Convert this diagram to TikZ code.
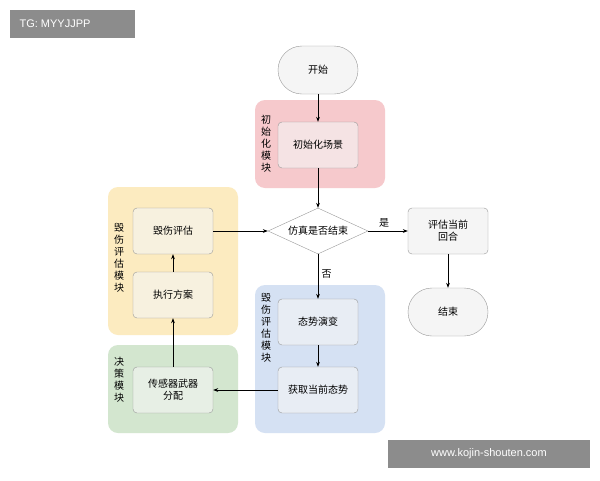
\documentclass[tikz,border=0pt]{standalone}
\usepackage{fontspec}
\setmainfont{Liberation Sans}
\newfontfamily\cjk{Noto Sans CJK SC}
\usetikzlibrary{shapes.geometric,arrows.meta}
\definecolor{pinkbg}{HTML}{F6C9CC}
\definecolor{yelbg}{HTML}{FCEBC0}
\definecolor{grnbg}{HTML}{D3E6CF}
\definecolor{bluebg}{HTML}{D5E1F3}
\definecolor{boxgray}{HTML}{F5F5F5}
\definecolor{edgegray}{HTML}{999999}
\begin{document}
\begin{tikzpicture}[x=1pt,y=-1pt,
  font=\cjk\fontsize{10}{12}\selectfont,
  module/.style={draw=none,rounded corners=10pt},
  inner/.style={draw=edgegray,fill=boxgray,fill opacity=0.6,text opacity=1,rounded corners=4pt,minimum width=80pt,minimum height=46pt,align=center},
  term/.style={draw=edgegray,fill=boxgray,rounded corners=24pt,minimum width=80pt,minimum height=48pt},
  vlabel/.style={align=center,font=\cjk\fontsize{10}{12}\selectfont},
  arr/.style={-{Stealth[length=5pt]},black,line width=0.6pt}]
\useasboundingbox (0,0) rectangle (600,480);
\fill[white] (0,0) rectangle (600,480);
% modules
\fill[pinkbg,module] (255,100) rectangle (385,188);
\fill[yelbg,module] (108,187) rectangle (238,335);
\fill[grnbg,module] (108,345) rectangle (238,433);
\fill[bluebg,module] (255,285) rectangle (385,433);
\node[vlabel] (lp) at (266,144) {初\\始\\化\\模\\块};
\node[vlabel] (ly) at (119,258) {毁\\伤\\评\\估\\模\\块};
\node[vlabel] (lg) at (119,380) {决\\策\\模\\块};
\node[vlabel] (lb) at (266,328) {毁\\伤\\评\\估\\模\\块};
% nodes
\node[term] (start) at (318,70) {开始};
\node[inner] (init) at (318,145) {初始化场景};
\node[diamond,draw=edgegray,fill=white,minimum width=100pt,minimum height=46pt,inner sep=0pt,aspect=2.2] (dec) at (318,231) {仿真是否结束};
\node[inner] (dmg) at (173,231) {毁伤评估};
\node[inner] (exe) at (173,295) {执行方案};
\node[inner] (alloc) at (173,390) {传感器武器\\分配};
\node[inner] (evo) at (318,322) {态势演变};
\node[inner] (get) at (318,390) {获取当前态势};
\node[inner,fill opacity=1] (eval) at (448,231) {评估当前\\回合};
\node[term] (end) at (448,312) {结束};
% arrows
\draw[arr] (start) -- (init);
\draw[arr] (init) -- (dec);
\draw[arr] (dec) -- node[above,pos=0.4]{是} (eval);
\draw[arr] (dec) -- node[right,pos=0.45]{否} (evo);
\draw[arr] (eval) -- (end);
\draw[arr] (evo) -- (get);
\draw[arr] (get) -- (alloc);
\draw[arr] (alloc) -- (exe);
\draw[arr] (exe) -- (dmg);
\draw[arr] (dmg) -- (dec);
% watermarks
\fill[black!45] (10,10) rectangle (135,38);
\node[white,font=\fontsize{11}{13}\selectfont,anchor=west] (wm1) at (16,24) {TG: MYYJJPP};
\fill[black!45] (388,440) rectangle (590,468);
\node[white,font=\fontsize{11}{13}\selectfont] (wm2) at (489,454) {www.kojin-shouten.com};
\end{tikzpicture}
\end{document}
